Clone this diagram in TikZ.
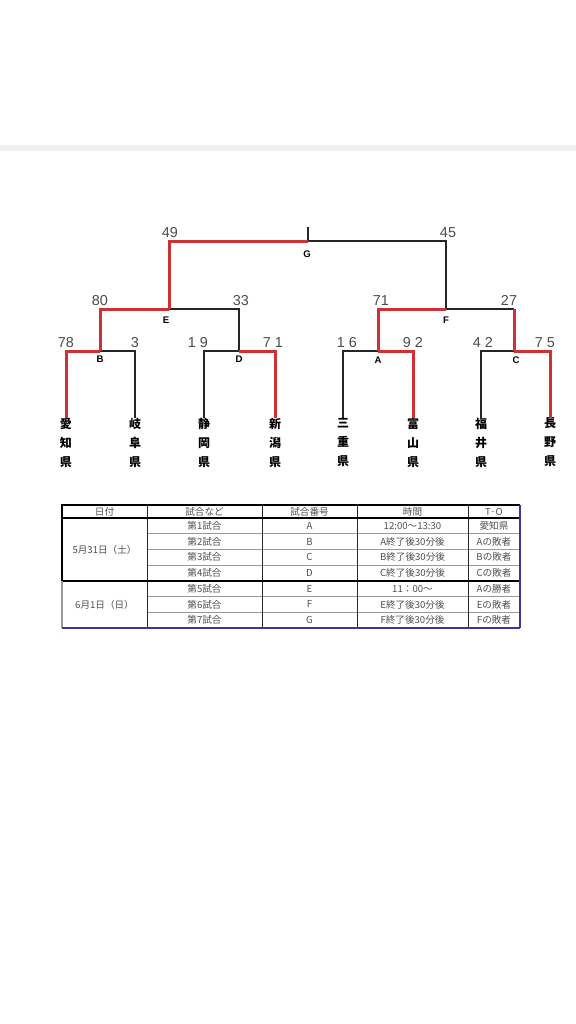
\documentclass[tikz,border=0pt]{standalone}
\usepackage{fontspec}
\setmainfont{Liberation Sans}
\newfontfamily\jpfont{Noto Sans CJK JP}
\usetikzlibrary{positioning}
\definecolor{winred}{RGB}{208,48,52}
\definecolor{tabblue}{RGB}{62,52,160}
\definecolor{txtgray}{RGB}{80,80,80}
\definecolor{bandgray}{RGB}{241,237,243}

\begin{document}
\begin{tikzpicture}[x=0.5pt,y=-0.5pt,
  lose/.style={line width=0.75pt,black!85},
  win/.style={line width=1.5pt,winred},
  score/.style={font=\fontsize{7.2}{7.2}\selectfont,text=black!70,inner sep=0pt,anchor=base},
  matchlbl/.style={font=\fontsize{4.8}{4.8}\selectfont\bfseries,inner sep=0pt},
  team/.style={font=\jpfont\bfseries\fontsize{6}{9.5}\selectfont,align=center,anchor=north,inner sep=0pt},
  cell/.style={font=\jpfont\fontsize{4.8}{4.8}\selectfont,text=txtgray,inner sep=0pt},
  rule/.style={line width=0.35pt,black!40}]
\useasboundingbox[fill=white] (0,0) rectangle (576,1024);
\fill[bandgray] (0,145) rectangle (576,151);

% match points
\coordinate (G) at (308,241);
\coordinate (Gtop) at (308,227);
\coordinate (E) at (169,309);
\coordinate (F) at (446,309);
\coordinate (B) at (100,351);
\coordinate (D) at (239,351);
\coordinate (A) at (378,351);
\coordinate (C) at (514,351);

% teams
\node[team] (aichi) at (66,417.5) {愛\\知\\県};
\node[team] (gifu) at (135,417.5) {岐\\阜\\県};
\node[team] (shizuoka) at (204,417.5) {静\\岡\\県};
\node[team] (niigata) at (275,417.5) {新\\潟\\県};
\node[team] (mie) at (343,417.5) {三\\重\\県};
\node[team] (toyama) at (413,417.5) {富\\山\\県};
\node[team] (fukui) at (481,417.5) {福\\井\\県};
\node[team] (nagano) at (550,417.5) {長\\野\\県};

% losing side
\draw[lose] (F) |- (G);
\draw[lose] (G) -- (Gtop);
\draw[lose] (D) |- (E);
\draw[lose] (C |- F) -- (F);
\draw[lose] (gifu.north) |- (B);
\draw[lose] (shizuoka.north) |- (D);
\draw[lose] (mie.north) |- (A);
\draw[lose] (fukui.north) |- (C);
% winning side
\draw[win] (E) |- (G);
\draw[win] (B) |- (E);
\draw[win] (A) |- (F);
\draw[win] (C) -- (C |- F);
\draw[win] (aichi.north) |- (B);
\draw[win] (niigata.north) |- (D);
\draw[win] (toyama.north) |- (A);
\draw[win] (nagano.north) |- (C);

% match labels
\node[matchlbl] (lblG) at (307,254) {G};
\node[matchlbl] (lblE) at (166,320) {E};
\node[matchlbl] (lblF) at (446,320) {F};
\node[matchlbl] (lblB) at (100,359) {B};
\node[matchlbl] (lblD) at (239,359) {D};
\node[matchlbl] (lblA) at (378,360) {A};
\node[matchlbl] (lblC) at (516,360) {C};

% scores
\node[score] (s49) at (170,237) {49};
\node[score] (s45) at (448,237) {45};
\node[score] (s80) at (100,305) {80};
\node[score] (s33) at (241,305) {33};
\node[score] (s71) at (381,305) {71};
\node[score] (s27) at (509,305) {27};
\node[score] (s78) at (66,347) {78};
\node[score] (s3) at (135,347) {3};
\node[score] (s19) at (198,347) {1 9};
\node[score] (s71b) at (273,347) {7 1};
\node[score] (s16) at (347,347) {1 6};
\node[score] (s92) at (413,347) {9 2};
\node[score] (s42) at (483,347) {4 2};
\node[score] (s75) at (545,347) {7 5};

% schedule table
\foreach \y in {533.7,549.4,565.1,596.5,612.2}
  \draw[rule] (147,\y) -- (520,\y);
\foreach \x in {147,262,357,468}
  \draw[line width=0.5pt,black!85] (\x,505) -- (\x,628);
\draw[line width=0.6pt] (62,518) -- (520,518);
\draw[line width=0.9pt] (62,581) -- (520,581);
\draw[line width=0.8pt] (62,581) -- (62,505) -- (520,505);
\draw[line width=0.6pt,black!40] (62,581) -- (62,628);
\draw[line width=0.9pt,tabblue] (520,505) -- (520,628);
\draw[line width=1pt,tabblue] (62,628) -- (520,628);

\node[cell] (h1) at (104.5,511.5) {日付};
\node[cell] (h2) at (204.5,511.5) {試合など};
\node[cell] (h3) at (309.5,511.5) {試合番号};
\node[cell] (h4) at (412.5,511.5) {時間};
\node[cell] (h5) at (494,511.5) {T·O};
\node[cell] (day1) at (104.5,549.6) {5月31日（土）};
\node[cell] (day2) at (104.5,604.5) {6月1日（日）};
\foreach \id/\tm/\to [count=\i] in {A/12:00～13:30/愛知県,B/A終了後30分後/Aの敗者,
    C/B終了後30分後/Bの敗者,D/C終了後30分後/Cの敗者,E/11：00～/Aの勝者,
    F/E終了後30分後/Eの敗者,G/F終了後30分後/Fの敗者}{
  \pgfmathsetmacro\yc{518+(\i-0.5)*15.71}
  \node[cell] (no\i) at (204.5,\yc) {第\i 試合};
  \node[cell] (id\i) at (309.5,\yc) {\id};
  \node[cell] (tm\i) at (412.5,\yc) {\tm};
  \node[cell] (to\i) at (494,\yc) {\to};
}
\end{tikzpicture}
\end{document}
